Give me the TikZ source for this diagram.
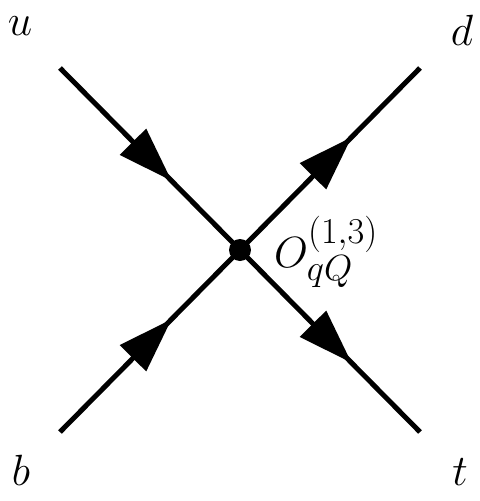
\documentclass[tikz,border=0pt]{standalone}
\usetikzlibrary{arrows.meta,decorations.markings}
\begin{document}
\begin{tikzpicture}[x=0.02cm,y=-0.02cm,
  fermion/.style={line width=0.1cm,postaction={decorate},
    decoration={markings,mark=at position 0.62 with {\arrow{Triangle[length=1.1cm,width=0.72cm]}}}},
  extlabel/.style={font=\fontsize{38}{44}\selectfont},
  oplabel/.style={font=\fontsize{32}{38}\selectfont,anchor=west}]
\useasboundingbox (0,0) rectangle (480,501);
\coordinate (U) at (60,68);
\coordinate (D) at (420,68);
\coordinate (B) at (60,432);
\coordinate (T) at (420,432);
\coordinate (C) at (240,250);
\draw[fermion] (U) -- (C);
\draw[fermion] (C) -- (D);
\draw[fermion] (B) -- (C);
\draw[fermion] (C) -- (T);
\fill (C) circle (0.22cm);
\node[extlabel] (lu) at (20,26) {$u$};
\node[extlabel] (ld) at (462,30) {$d$};
\node[extlabel] (lb) at (21,470) {$b$};
\node[extlabel] (lt) at (460,472) {$t$};
\node[oplabel] (lo) at (268,252) {$O_{qQ}^{(1,3)}$};
\end{tikzpicture}
\end{document}
